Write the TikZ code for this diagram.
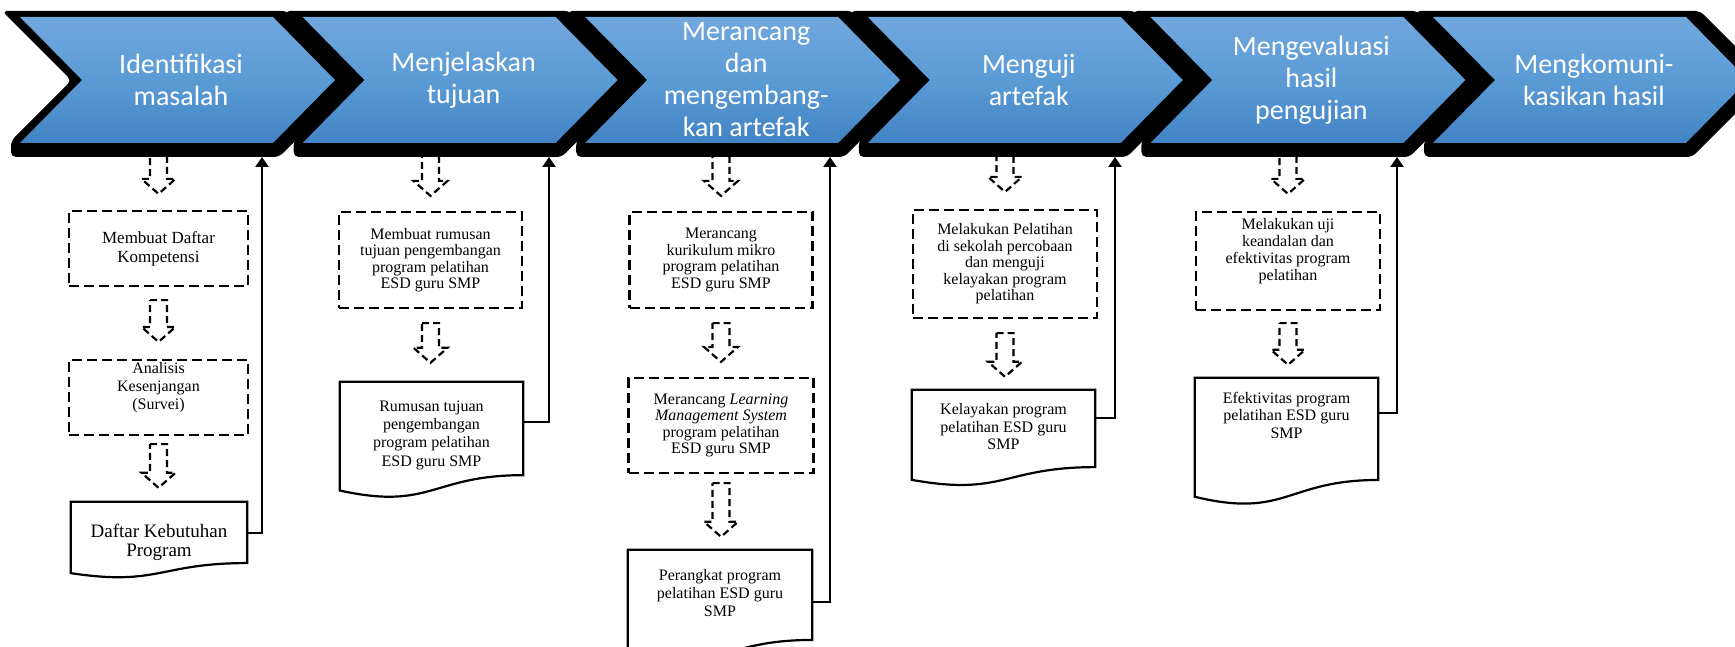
\documentclass[tikz,border=0pt]{standalone}
\usepackage{fontspec}
\setmainfont{Liberation Serif}
\newfontfamily\calib{Carlito}
\usetikzlibrary{calc,arrows.meta}

\definecolor{chevtop}{RGB}{113,167,221}
\definecolor{chevmid}{RGB}{91,155,213}
\definecolor{chevbot}{RGB}{66,131,197}

\tikzset{
 chevblack/.style={fill=black, rounded corners=5pt},
 chevfill/.style={top color=chevtop, bottom color=chevbot, middle color=chevmid},
 chevtext/.style={text=white, font=\calib\fontsize{28}{32}\selectfont, align=center, inner sep=0pt},
 dbox/.style={draw=black, line width=2.2pt, dash pattern=on 10pt off 5pt, align=center, inner sep=0pt, font=\fontsize{16}{16.5}\selectfont},
 docshape/.style={draw=none, inner sep=0pt},
 docline/.style={draw=black, line width=2.2pt, line join=miter},
 doctext/.style={align=center, inner sep=0pt, font=\fontsize{16}{18.3}\selectfont},
 hollow/.style={draw=black, line width=2.2pt, dash pattern=on 7pt off 4pt},
 fb/.style={draw=black, line width=2.5pt, -{Triangle[width=13pt,length=10pt]}},
}

\newcommand\chevpath[1]{(#1,17) -- ++(253,0) -- ++(62,63) -- ++(-62,63) -- ++(-253,0) -- ++(62,-63) -- cycle}
\newcommand\chevblackpath[1]{({#1-18},11) -- ({#1+267},11) -- ({#1+336},80) -- ({#1+259},157) -- ({#1-9},157) -- ({#1-9},141) -- ({#1+51.5},80.5) -- cycle}
\newcommand\chevron[3]{%
  \path[chevblack] \chevblackpath{#1};
  \path[chevfill] \chevpath{#1};
  \node[chevtext] (#2) at ({#1+161},80) {#3};
}
\newcommand\harrow[4]{%
  \draw[hollow] let \p1=#1, \p2=#2 in
   (\x1-8.5pt,{\y1-#3pt}) -- (\x1+8.5pt,{\y1-#3pt}) -- (\x1+8.5pt,{\y2+#4pt+15pt})
   -- (\x1+17pt,{\y2+#4pt+15pt}) -- (\x1,{\y2+#4pt}) -- (\x1-17pt,{\y2+#4pt+15pt})
   -- (\x1-8.5pt,{\y2+#4pt+15pt}) -- cycle;
}
\newcommand\docdraw[1]{%
  \draw[docline] ($(#1.north east)!0.802!(#1.south east)$) -- (#1.north east) -- (#1.north west)
   -- ($(#1.north west)!0.934!(#1.south west)$)
   .. controls ($(#1.north)!1.1075!(#1.south)$) and ($(#1.north)!0.802!(#1.south)$)
   .. ($(#1.north east)!0.802!(#1.south east)$) -- cycle;
}

\begin{document}
\begin{tikzpicture}[x=1pt,y=-1pt]
\useasboundingbox (0,0) rectangle (1735,647);
\clip (0,0) rectangle (1735,647);

% ---- column 1
\node[dbox, minimum width=179pt, minimum height=75pt, font=\fontsize{17}{19}\selectfont] (a1) at (158.5,248.5) {Membuat Daftar\\Kompetensi};
\node[dbox, minimum width=179pt, minimum height=75pt, font=\fontsize{16}{18}\selectfont] (a2) at (158.5,397.5) {Analisis\\Kesenjangan\\(Survei)\\[6pt]};
\node[docshape, minimum width=176pt, minimum height=76pt] (d1) at (159,540) {};
\docdraw{d1}
\node[doctext, font=\fontsize{19}{19}\selectfont] (d1t) at (159,542.5) {Daftar Kebutuhan\\Program};

% ---- column 2
\node[dbox, minimum width=183pt, minimum height=96pt] (b1) at (430.5,260) {Membuat rumusan\\tujuan pengembangan\\program pelatihan\\ESD guru SMP};
\node[docshape, minimum width=183pt, minimum height=116pt] (d2) at (431.5,440) {};
\docdraw{d2}
\node[doctext] (d2t) at (431.5,435) {Rumusan tujuan\\pengembangan\\program pelatihan\\ESD guru SMP};

% ---- column 3
\node[dbox, minimum width=183pt, minimum height=96pt] (c1) at (721,260) {Merancang\\kurikulum mikro\\program pelatihan\\ESD guru SMP};
\node[dbox, minimum width=185pt, minimum height=95pt] (c2) at (721,425.5) {Merancang \textit{Learning}\\\textit{Management System}\\program pelatihan\\ESD guru SMP};
\node[docshape, minimum width=184pt, minimum height=112pt] (d3) at (720,606) {};
\docdraw{d3}
\node[doctext] (d3t) at (720,593) {Perangkat program\\pelatihan ESD guru\\SMP};

% ---- column 4
\node[dbox, minimum width=184pt, minimum height=108pt] (e1) at (1005,264) {Melakukan Pelatihan\\di sekolah percobaan\\dan menguji\\kelayakan program\\pelatihan};
\node[docshape, minimum width=183pt, minimum height=96pt] (d4) at (1003.5,438) {};
\docdraw{d4}
\node[doctext, font=\fontsize{16}{17.5}\selectfont] (d4t) at (1003.5,427) {Kelayakan program\\pelatihan ESD guru\\SMP};

% ---- column 5
\node[dbox, minimum width=184pt, minimum height=98pt, font=\fontsize{16}{17}\selectfont] (f1) at (1288,261) {Melakukan uji\\keandalan dan\\efektivitas program\\pelatihan\\[6pt]};
\node[docshape, minimum width=183pt, minimum height=127pt] (d5) at (1286.5,441.5) {};
\docdraw{d5}
\node[doctext, font=\fontsize{16}{17.5}\selectfont] (d5t) at (1286.5,415) {Efektivitas program\\pelatihan ESD guru\\SMP};

% ---- hollow dashed arrows
\harrow{(158.5,140)}{(a1.north)}{0}{16}
\harrow{(a1.south)}{(a2.north)}{13}{17}
\harrow{(a2.south)}{(d1.north)}{8}{14}
\harrow{(430.5,140)}{(b1.north)}{0}{15}
\harrow{(b1.south)}{(d2.north)}{14}{19}
\harrow{(721,140)}{(c1.north)}{0}{15}
\harrow{(c1.south)}{(c2.north)}{14}{15}
\harrow{(c2.south)}{(d3.north)}{9}{13}
\harrow{(1005,140)}{(e1.north)}{0}{17}
\harrow{(e1.south)}{(d4.north)}{14}{13}
\harrow{(1288,140)}{(f1.north)}{0}{17}
\harrow{(f1.south)}{(d5.north)}{12}{13}

% ---- chevrons
\chevron{20}{chev1}{Identifikasi\\masalah}
\chevron{302.6}{chev2}{Menjelaskan\\tujuan}
\chevron{585.2}{chev3}{Merancang\\dan\\mengembang-\\kan artefak}
\chevron{867.8}{chev4}{Menguji\\artefak}
\chevron{1150.4}{chev5}{Mengevaluasi\\hasil\\pengujian}
\chevron{1433}{chev6}{Mengkomuni-\\kasikan hasil}

% ---- feedback connectors
\coordinate (t1) at (262,157);
\coordinate (t2) at (549,157);
\coordinate (t3) at (830,157);
\coordinate (t4) at (1115,157);
\coordinate (t5) at (1397,157);
\draw[fb] ($(d1.north east)+(0,31)$) -| (t1);
\draw[fb] ($(d2.north east)+(0,40)$) -| (t2);
\draw[fb] ($(d3.north east)+(0,52)$) -| (t3);
\draw[fb] ($(d4.north east)+(0,28)$) -| (t4);
\draw[fb] ($(d5.north east)+(0,35)$) -| (t5);
\end{tikzpicture}
\end{document}
